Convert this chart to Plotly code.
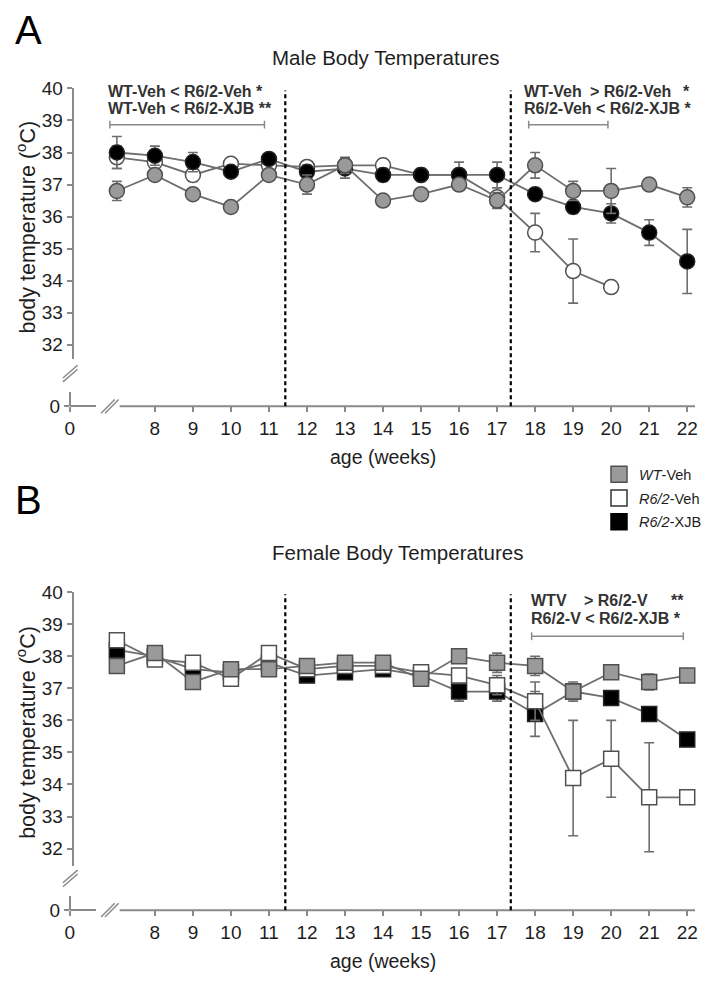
import plotly.graph_objects as go

# page has an 8px body margin, so the figure is sized to fill the window exactly
OFF = 8
W, H = 715 - 2 * OFF, 982 - 2 * OFF
FONT = "Liberation Sans, Arial, sans-serif"

# ---------------- data ----------------
weeks = list(range(7, 23))
x_ticks = list(range(8, 23))
y_ticks = list(range(32, 41))
dashed_weeks = [11.43, 17.36]
series_names = ["<i>WT</i>-Veh", "<i>R6/2</i>-Veh", "<i>R6/2</i>-XJB"]

male_wt = [36.8, 37.3, 36.7, 36.3, 37.3, 37.0, 37.6, 36.5, 36.7, 37.0, 36.5, 37.6, 36.8, 36.8, 37.0, 36.6]
male_wt_err = [0.3, 0.15, 0.15, 0.15, 0.15, 0.3, 0.25, 0.15, 0.15, 0.15, 0.25, 0.4, 0.3, 0.7, 0.15, 0.3]
male_veh = [37.85, 37.7, 37.3, 37.65, 37.6, 37.55, 37.6, 37.6, 37.3, 37.3, 36.6, 35.5, 34.3, 33.8, None, None]
male_veh_err = [0.35, 0.2, 0.2, 0.1, 0.1, 0.1, 0.2, 0.1, 0.1, 0.1, 0.3, 0.6, 1.0, 0.1, None, None]
male_xjb = [38.0, 37.9, 37.7, 37.4, 37.8, 37.4, 37.5, 37.3, 37.3, 37.3, 37.3, 36.7, 36.3, 36.1, 35.5, 34.6]
male_xjb_err = [0.5, 0.3, 0.3, 0.15, 0.15, 0.2, 0.3, 0.2, 0.2, 0.4, 0.4, 0.15, 0.2, 0.3, 0.4, 1.0]

female_wt = [37.7, 38.1, 37.2, 37.6, 37.6, 37.7, 37.8, 37.8, 37.3, 38.0, 37.8, 37.7, 36.9, 37.5, 37.2, 37.4]
female_wt_err = [0.1, 0.1, 0.1, 0.15, 0.1, 0.1, 0.1, 0.1, 0.1, 0.15, 0.3, 0.3, 0.3, 0.1, 0.25, 0.1]
female_veh = [38.5, 37.9, 37.8, 37.3, 38.1, 37.6, 37.7, 37.7, 37.5, 37.4, 37.1, 36.6, 34.2, 34.8, 33.6, 33.6]
female_veh_err = [0.1, 0.1, 0.1, 0.1, 0.1, 0.1, 0.1, 0.1, 0.1, 0.2, 0.3, 0.6, 1.8, 1.2, 1.7, 0.1]
female_xjb = [38.2, 38.0, 37.6, 37.5, 37.8, 37.4, 37.5, 37.6, 37.4, 36.9, 36.9, 36.2, 36.9, 36.7, 36.2, 35.4]
female_xjb_err = [0.1, 0.1, 0.1, 0.1, 0.1, 0.1, 0.1, 0.1, 0.1, 0.3, 0.3, 0.7, 0.2, 0.1, 0.1, 0.1]
stub_zero = [0]

# ---------------- styling helpers ----------------
AX = "#8a8a8a"
LINE = "#6e6e6e"
EDGE = "#505050"
GRAY = "#9a9a9a"
TXT = "#1e1e1e"


def fx(p):
    """window pixel (x) -> paper fraction"""
    return (p - OFF) / W


def fy(p):
    """window pixel (y) -> paper fraction"""
    return 1 - (p - OFF) / H


PX_PER_WEEK = (697 - 153) / 14.0
PX_PER_DEG = (342 - 80) / 8.0
PLOT_LEFT = 100
x_range = [8 - (153 - PLOT_LEFT) / PX_PER_WEEK, 22 + (705 - 697) / PX_PER_WEEK]

panels = [
    dict(top=80, bot=357, xax=405, stub=390, brk=380, ids=("", "2")),
    dict(top=595, bot=875, xax=920, stub=905, brk=896, ids=("3", "4")),
]

fig = go.Figure()
layout = dict(
    width=W, height=H, margin=dict(l=0, r=0, t=0, b=0),
    paper_bgcolor="white", plot_bgcolor="rgba(0,0,0,0)",
    font=dict(family=FONT, color=TXT),
    showlegend=True,
)

axis_common = dict(showgrid=False, zeroline=False, showline=True, linecolor=AX, linewidth=2,
                   ticks="outside", ticklen=5, tickwidth=1.5, tickcolor=AX,
                   tickfont=dict(family=FONT, size=19, color=TXT), fixedrange=True)

shapes = []
annotations = []

for p in panels:
    m, s = p["ids"]
    y_range = [40 - (p["bot"] - p["top"]) / PX_PER_DEG, 40]
    layout["xaxis" + m] = dict(axis_common, domain=[fx(PLOT_LEFT), fx(705)], range=x_range, anchor="free",
                               position=fy(p["xax"]), tickvals=x_ticks, ticktext=[str(t) for t in x_ticks],
                               showline=False)
    layout["yaxis" + m] = dict(axis_common, domain=[fy(p["bot"]), fy(p["top"])], range=y_range, anchor="free",
                               position=fx(69), tickvals=y_ticks, ticktext=[str(t) for t in y_ticks])
    layout["xaxis" + s] = dict(axis_common, domain=[fx(66), fx(93)], range=[0, 1], anchor="free",
                               position=fy(p["xax"]), tickvals=[0], ticktext=["0"])
    layout["yaxis" + s] = dict(axis_common, domain=[fy(p["xax"]), fy(p["stub"])], range=[0, 1], anchor="free",
                               position=fx(66), tickvals=[0], ticktext=["0"])
    # invisible helper to make the stub axes render
    fig.add_trace(go.Scatter(x=stub_zero, y=stub_zero, xaxis="x" + s, yaxis="y" + s, mode="markers",
                             marker=dict(opacity=0), hoverinfo="skip", showlegend=False))
    # visible part of the main x-axis line (after the break)
    shapes.append(dict(type="line", xref="paper", yref="paper", x0=fx(117), x1=fx(705),
                       y0=fy(p["xax"]), y1=fy(p["xax"]), line=dict(color=AX, width=2)))
    # dashed vertical lines
    for wk in dashed_weeks:
        shapes.append(dict(type="line", xref="x" + m, yref="paper", x0=wk, x1=wk,
                           y0=fy(p["xax"]), y1=fy(p["top"] + 2),
                           line=dict(color="black", width=2.2, dash="4px,3px")))
    # axis break marks
    for d in (0, 4):
        shapes.append(dict(type="line", xref="paper", yref="paper", x0=fx(59), x1=fx(74),
                           y0=fy(p["brk"] - d), y1=fy(p["brk"] - 13 - d), line=dict(color=AX, width=1.5)))
        shapes.append(dict(type="line", xref="paper", yref="paper", x0=fx(98 + d), x1=fx(112 + d),
                           y0=fy(p["xax"] + 7), y1=fy(p["xax"] - 7), line=dict(color=AX, width=1.5)))
    annotations.append(dict(xref="paper", yref="paper", x=fx(21),
                            y=fy((p["top"] + p["bot"]) / 2 + 3), text="body temperature (<sup>o</sup>C)",
                            textangle=-90, showarrow=False, font=dict(size=21.5, color=TXT),
                            xanchor="center", yanchor="middle"))
    annotations.append(dict(xref="paper", yref="paper", x=fx(386), y=fy(p["xax"] + 52),
                            text="age (weeks)", showarrow=False, font=dict(size=19.5, color=TXT),
                            xanchor="center", yanchor="middle"))


def add_series(y, err, name, symbol, fill, edge, xa, ya):
    fig.add_trace(go.Scatter(
        x=weeks, y=y, name=name, xaxis=xa, yaxis=ya, mode="lines+markers",
        line=dict(color=LINE, width=1.8),
        marker=dict(symbol=symbol, size=15, color=fill, line=dict(color=edge, width=1.5)),
        error_y=dict(type="data", array=err, visible=True, color=LINE, thickness=1.6, width=5),
        showlegend=False, connectgaps=False, cliponaxis=False))


# male (circles): white under, black, gray on top
add_series(male_veh, male_veh_err, series_names[1], "circle", "white", EDGE, "x", "y")
add_series(male_xjb, male_xjb_err, series_names[2], "circle", "black", "#222222", "x", "y")
add_series(male_wt, male_wt_err, series_names[0], "circle", GRAY, EDGE, "x", "y")
# female (squares): black under, white, gray on top
add_series(female_xjb, female_xjb_err, series_names[2], "square", "black", "#222222", "x3", "y3")
add_series(female_veh, female_veh_err, series_names[1], "square", "white", EDGE, "x3", "y3")
add_series(female_wt, female_wt_err, series_names[0], "square", GRAY, EDGE, "x3", "y3")

# legend-only entries
for i, (name, fill, edge) in enumerate(zip(series_names, [GRAY, "white", "black"], [EDGE, "#333333", "black"])):
    fig.add_trace(go.Scatter(x=[None], y=[None], name=name, mode="markers", xaxis="x3", yaxis="y3",
                             legendgroup="g%d" % i,
                             marker=dict(symbol="square", size=16, color=fill, line=dict(color=edge, width=1.5))))

layout["legend"] = dict(x=fx(607), y=fy(458), xanchor="left", yanchor="top", bgcolor="rgba(0,0,0,0)",
                        font=dict(size=14.5, color=TXT), tracegroupgap=2, itemwidth=30)

# titles and panel letters
annotations += [
    dict(xref="paper", yref="paper", x=0, y=fy(-4), text="A", showarrow=False, xanchor="left", yanchor="top",
         font=dict(size=40, color="black")),
    dict(xref="paper", yref="paper", x=0, y=fy(476), text="B", showarrow=False, xanchor="left", yanchor="top",
         font=dict(size=40, color="black")),
    dict(xref="paper", yref="paper", x=fx(389), y=fy(48), text="Male Body Temperatures", showarrow=False,
         xanchor="center", yanchor="middle", font=dict(size=20.5, color=TXT)),
    dict(xref="paper", yref="paper", x=fx(401), y=fy(554), text="Female Body Temperatures", showarrow=False,
         xanchor="center", yanchor="middle", font=dict(size=20.5, color=TXT)),
]

STAT = dict(size=16, color="#333333", family="Liberation Sans, Arial, sans-serif")


def stat(x, y, t):
    annotations.append(dict(xref="paper", yref="paper", x=fx(x), y=fy(y), text="<b>" + t + "</b>",
                            showarrow=False, xanchor="left", yanchor="middle", font=STAT))


stat(103, 83, "WT-Veh &lt; R6/2-Veh *")
stat(103, 101, "WT-Veh &lt; R6/2-XJB **")
stat(528, 83, "WT-Veh")
stat(596, 83, "&gt; R6/2-Veh")
stat(691, 83, "*")
stat(528, 101, "R6/2-Veh &lt; R6/2-XJB *")
stat(535, 603, "WTV")
stat(589, 603, "&gt; R6/2-V")
stat(678, 603, "**")
stat(535, 622, "R6/2-V &lt; R6/2-XJB *")


def bracket(x0, x1, y):
    shapes.append(dict(type="line", xref="paper", yref="paper", x0=fx(x0), x1=fx(x1), y0=fy(y), y1=fy(y),
                       line=dict(color=AX, width=1.5)))
    for xx in (x0, x1):
        shapes.append(dict(type="line", xref="paper", yref="paper", x0=fx(xx), x1=fx(xx), y0=fy(y - 4),
                           y1=fy(y + 4), line=dict(color=AX, width=1.5)))


bracket(107, 265, 117)
bracket(535, 616, 117)
bracket(538, 693, 640)

layout["shapes"] = shapes
layout["annotations"] = annotations
fig.update_layout(**layout)
fig.write_html("out.html", config={"displayModeBar": False})
